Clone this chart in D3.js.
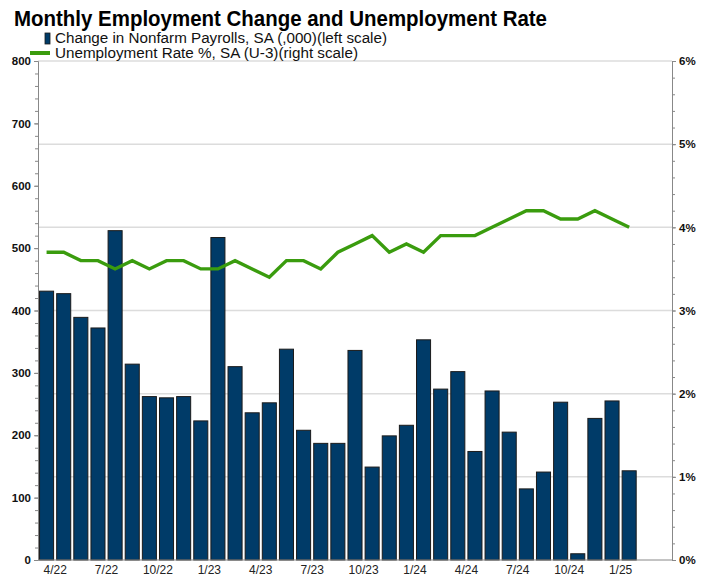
<!DOCTYPE html>
<html>
<head>
<meta charset="utf-8">
<script src="https://cdn.jsdelivr.net/npm/d3@7"></script>
<style>
  body { margin: 0; background: #fff; }
  text { font-family: "Liberation Sans", Arial, sans-serif; }
</style>
</head>
<body>
<div id="chart"></div>
<script>
// monthly data, Mar 2022 - Jan 2025
const months = ["3/22","4/22","5/22","6/22","7/22","8/22","9/22","10/22","11/22","12/22",
  "1/23","2/23","3/23","4/23","5/23","6/23","7/23","8/23","9/23","10/23","11/23","12/23",
  "1/24","2/24","3/24","4/24","5/24","6/24","7/24","8/24","9/24","10/24","11/24","12/24","1/25"];

// change in nonfarm payrolls (,000)
const payrolls = [431,427,389,372,528,314,262,260,262,223,
  517,310,236,252,338,208,187,187,336,149,199,216,
  353,274,302,174,271,205,114,141,253,10,227,255,143];

// unemployment rate %
const unemp = [3.7,3.7,3.6,3.6,3.5,3.6,3.5,3.6,3.6,3.5,
  3.5,3.6,3.5,3.4,3.6,3.6,3.5,3.7,3.8,3.9,3.7,3.8,
  3.7,3.9,3.9,3.9,4.0,4.1,4.2,4.2,4.1,4.1,4.2,4.1,4.0];

const leftTicks = [0,100,200,300,400,500,600,700,800];
const rightTicks = [0,1,2,3,4,5,6];
const xTickLabels = ["4/22","7/22","10/22","1/23","4/23","7/23","10/23","1/24","4/24","7/24","10/24","1/25"];

const W = 703, H = 584;
const margin = {top: 61, right: 31, bottom: 24, left: 38};
const plotL = margin.left, plotR = W - margin.right,
      plotT = margin.top, plotB = H - margin.bottom;

const svg = d3.select("#chart").append("svg")
    .attr("width", W)
    .attr("height", H);

// two empty months are left at the right end of the axis
const slots = months.length + 2;
const x = d3.scaleBand()
  .domain(months)
  .range([plotL, plotL + (plotR - plotL) * months.length / slots])
  .paddingInner(0.18)
  .paddingOuter(0.09);

const yL = d3.scaleLinear().domain([0, 800]).range([plotB, plotT]);
const yR = d3.scaleLinear().domain([0, 6]).range([plotB, plotT]);

// gridlines follow the right scale
svg.append("g")
  .selectAll("line")
  .data(rightTicks.slice(1))
  .join("line")
    .attr("x1", plotL).attr("x2", plotR)
    .attr("y1", d => yR(d)).attr("y2", d => yR(d))
    .attr("stroke", "#dcdcdc")
    .attr("stroke-width", 1.5);

// bars
svg.append("g")
  .selectAll("rect")
  .data(payrolls)
  .join("rect")
    .attr("x", (d, i) => x(months[i]))
    .attr("y", d => yL(d))
    .attr("width", x.bandwidth())
    .attr("height", d => yL(0) - yL(d))
    .attr("fill", "#003b68")
    .attr("stroke", "#1b1b1b")
    .attr("stroke-width", 1);

// unemployment line
const line = d3.line()
  .x((d, i) => x(months[i]) + x.bandwidth() / 2)
  .y(d => yR(d));

svg.append("path")
  .datum(unemp)
  .attr("d", line)
  .attr("fill", "none")
  .attr("stroke", "#3a9c0e")
  .attr("stroke-width", 3.4)
  .attr("stroke-linejoin", "miter");

// bottom axis line
svg.append("line")
  .attr("x1", plotL).attr("x2", plotR)
  .attr("y1", plotB).attr("y2", plotB)
  .attr("stroke", "#888");

// left axis
const leftAxis = svg.append("g")
  .attr("transform", `translate(${plotL},0)`)
  .call(d3.axisLeft(yL).tickValues(leftTicks).tickSize(4).tickPadding(3));
svg.append("g")
  .attr("transform", `translate(${plotL},0)`)
  .call(d3.axisLeft(yL).tickValues(d3.range(0, 801, 20)).tickSize(3).tickFormat(""))
  .call(g => g.select(".domain").remove());

// right axis
const rightAxis = svg.append("g")
  .attr("transform", `translate(${plotR},0)`)
  .call(d3.axisRight(yR).tickValues(rightTicks).tickSize(4).tickPadding(3).tickFormat(d => d + "%"));
svg.append("g")
  .attr("transform", `translate(${plotR},0)`)
  .call(d3.axisRight(yR).tickValues(d3.range(0, 6.01, 0.2)).tickSize(3).tickFormat(""))
  .call(g => g.select(".domain").remove());

[leftAxis, rightAxis].forEach(g => {
  g.select(".domain").attr("stroke", "#888");
  g.selectAll("text")
    .attr("font-size", 11.5)
    .attr("font-weight", "bold")
    .attr("fill", "#111");
});
svg.selectAll(".tick line").attr("stroke", "#888");

// bottom axis: labels sit on the month boundaries
const xAxis = svg.append("g")
  .attr("transform", `translate(${-x.step() / 2},${plotB})`)
  .call(d3.axisBottom(x).tickValues(xTickLabels).tickSize(0).tickPadding(5));
xAxis.select(".domain").remove();
xAxis.selectAll("text")
  .attr("font-size", 12)
  .attr("fill", "#222");

// title
svg.append("text")
  .attr("x", 14).attr("y", 26)
  .attr("font-size", 22)
  .attr("font-weight", "bold")
  .attr("fill", "#000")
  .attr("textLength", 533)
  .attr("lengthAdjust", "spacingAndGlyphs")
  .text("Monthly Employment Change and Unemployment Rate");

// legend
svg.append("rect")
  .attr("x", 45).attr("y", 33)
  .attr("width", 5).attr("height", 11)
  .attr("fill", "#003b68")
  .attr("stroke", "#1b1b1b")
  .attr("stroke-width", 0.8);
svg.append("text")
  .attr("x", 55).attr("y", 43)
  .attr("font-size", 14)
  .attr("fill", "#111")
  .attr("textLength", 332)
  .attr("lengthAdjust", "spacingAndGlyphs")
  .text("Change in Nonfarm Payrolls, SA (,000)(left scale)");

svg.append("line")
  .attr("x1", 30).attr("x2", 50)
  .attr("y1", 53).attr("y2", 53)
  .attr("stroke", "#3a9c0e")
  .attr("stroke-width", 4);
svg.append("text")
  .attr("x", 55).attr("y", 58)
  .attr("font-size", 14)
  .attr("fill", "#111")
  .attr("textLength", 303)
  .attr("lengthAdjust", "spacingAndGlyphs")
  .text("Unemployment Rate %, SA (U-3)(right scale)");
</script>
</body>
</html>
